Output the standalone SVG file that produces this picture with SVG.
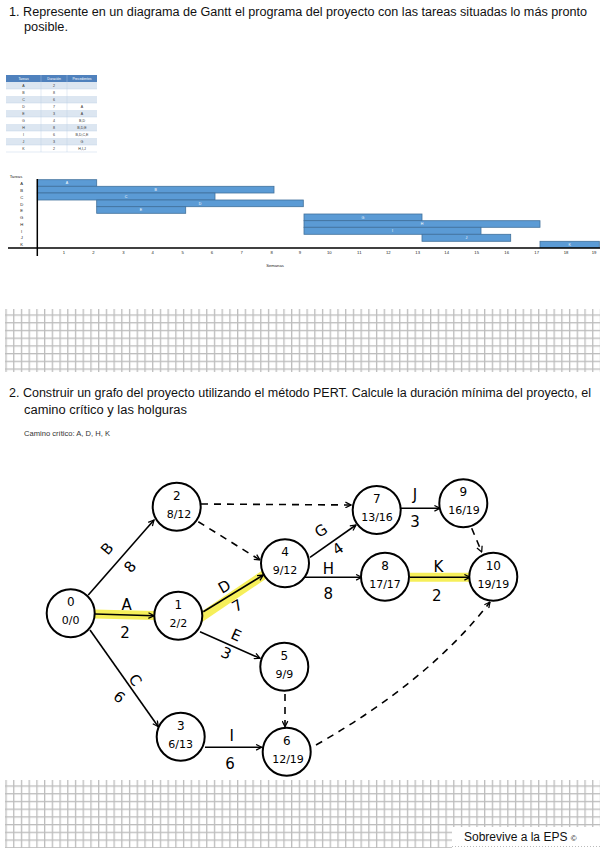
<svg xmlns="http://www.w3.org/2000/svg" width="600" height="848" viewBox="0 0 600 848">
<defs>
<style>
.h{font-family:"Liberation Sans",Arial,sans-serif;font-size:12px;fill:#111}
.tb{font-family:"Liberation Sans",Arial,sans-serif;font-size:3.6px;fill:#333;text-anchor:middle}
.th{font-family:"Liberation Sans",Arial,sans-serif;font-size:3.4px;fill:#fff;text-anchor:middle}
.gl{font-family:"Liberation Sans",Arial,sans-serif;font-size:4.2px;fill:#222;text-anchor:middle}
.bar{fill:#5b9bd5;stroke:#41719c;stroke-width:0.8}
.bl{font-family:"Liberation Sans",Arial,sans-serif;font-size:3.6px;fill:#fff;text-anchor:middle}
.node circle{fill:#fff;stroke:#000;stroke-width:2}
.nt{font-family:"DejaVu Sans",sans-serif;font-size:12px;fill:#000;text-anchor:middle}
.nb{font-family:"DejaVu Sans",sans-serif;font-size:11px;fill:#000;text-anchor:middle}
.el{font-family:"DejaVu Sans",sans-serif;font-size:15px;fill:#000;text-anchor:middle}
.e{stroke:#000;stroke-width:1.6;fill:none;marker-end:url(#ar)}
.d{stroke:#000;stroke-width:1.6;fill:none;stroke-dasharray:7 6;marker-end:url(#ar)}
.hl{stroke:#f6ef5a;stroke-width:9;fill:none;stroke-linecap:butt}
</style>
<marker id="ar" viewBox="0 0 10 10" refX="9" refY="5" markerWidth="7" markerHeight="7" orient="auto" markerUnits="userSpaceOnUse">
<path d="M1,1 L9,5 L1,9" fill="none" stroke="#000" stroke-width="1.8"/>
</marker>
<pattern id="gv" patternUnits="userSpaceOnUse" x="5.4" y="0" width="7.72" height="8"><rect x="0" y="0" width="1.3" height="8" fill="#bdbdbd"/></pattern>
<pattern id="gh1" patternUnits="userSpaceOnUse" x="0" y="314.4" width="8" height="7.72"><rect x="0" y="0" width="8" height="1.3" fill="#bdbdbd"/></pattern>
<pattern id="gh2" patternUnits="userSpaceOnUse" x="0" y="785.4" width="8" height="7.72"><rect x="0" y="0" width="8" height="1.3" fill="#bdbdbd"/></pattern>
</defs>
<rect width="600" height="848" fill="#fff"/>

<text class="h" x="9" y="16" textLength="578" lengthAdjust="spacingAndGlyphs">1. Represente en un diagrama de Gantt el programa del proyecto con las tareas situadas lo más pronto</text>
<text class="h" x="24" y="31" textLength="44" lengthAdjust="spacingAndGlyphs">posible.</text>

<g id="tabla">
<rect x="6" y="75" width="91" height="7" fill="#4f81bd"/>
<rect x="6" y="82" width="91" height="7" fill="#dce6f1"/>
<rect x="6" y="96" width="91" height="7" fill="#dce6f1"/>
<rect x="6" y="110" width="91" height="7" fill="#dce6f1"/>
<rect x="6" y="124" width="91" height="7" fill="#dce6f1"/>
<rect x="6" y="138" width="91" height="7" fill="#dce6f1"/>
<g stroke="#b8cce4" stroke-width="0.4">
<line x1="6" y1="89" x2="97" y2="89"/><line x1="6" y1="103" x2="97" y2="103"/><line x1="6" y1="117" x2="97" y2="117"/><line x1="6" y1="131" x2="97" y2="131"/><line x1="6" y1="145" x2="97" y2="145"/><line x1="6" y1="152" x2="97" y2="152"/>
<line x1="41" y1="75" x2="41" y2="152"/><line x1="67" y1="75" x2="67" y2="152"/>
</g>
<text class="th" x="23.5" y="80">Tareas</text><text class="th" x="54" y="80">Duración</text><text class="th" x="82" y="80">Precedentes</text>
<text class="tb" x="23.5" y="87">A</text><text class="tb" x="54" y="87">2</text>
<text class="tb" x="23.5" y="94">B</text><text class="tb" x="54" y="94">8</text>
<text class="tb" x="23.5" y="101">C</text><text class="tb" x="54" y="101">6</text>
<text class="tb" x="23.5" y="108">D</text><text class="tb" x="54" y="108">7</text><text class="tb" x="82" y="108">A</text>
<text class="tb" x="23.5" y="115">E</text><text class="tb" x="54" y="115">3</text><text class="tb" x="82" y="115">A</text>
<text class="tb" x="23.5" y="122">G</text><text class="tb" x="54" y="122">4</text><text class="tb" x="82" y="122">B,D</text>
<text class="tb" x="23.5" y="129">H</text><text class="tb" x="54" y="129">8</text><text class="tb" x="82" y="129">B,D,E</text>
<text class="tb" x="23.5" y="136">I</text><text class="tb" x="54" y="136">6</text><text class="tb" x="82" y="136">B,D,C,E</text>
<text class="tb" x="23.5" y="143">J</text><text class="tb" x="54" y="143">3</text><text class="tb" x="82" y="143">G</text>
<text class="tb" x="23.5" y="150">K</text><text class="tb" x="54" y="150">2</text><text class="tb" x="82" y="150">H,I,J</text>
</g>

<g id="gantt">
<text class="gl" x="16" y="177.5">Tareas</text>
<text class="gl" x="21.7" y="185">A</text><text class="gl" x="21.7" y="191.8">B</text><text class="gl" x="21.7" y="198.5">C</text><text class="gl" x="21.7" y="205.5">D</text><text class="gl" x="21.7" y="212.3">E</text><text class="gl" x="21.7" y="219">G</text><text class="gl" x="21.7" y="226">H</text><text class="gl" x="21.7" y="232.7">I</text><text class="gl" x="21.7" y="239.4">J</text><text class="gl" x="21.7" y="246">K</text>
<rect class="bar" x="37.3" y="179.7" width="59.4" height="6.6"/><text class="bl" x="67" y="184.3">A</text>
<rect class="bar" x="37.3" y="186.3" width="236.7" height="6.7"/><text class="bl" x="155.6" y="191">B</text>
<rect class="bar" x="37.3" y="193" width="177.7" height="7"/><text class="bl" x="126" y="197.8">C</text>
<rect class="bar" x="96.7" y="200" width="206.6" height="6.7"/><text class="bl" x="200" y="204.7">D</text>
<rect class="bar" x="96.7" y="206.7" width="89" height="6.6"/><text class="bl" x="141" y="211.3">E</text>
<rect class="bar" x="304" y="214" width="118" height="6.7"/><text class="bl" x="363" y="218.7">G</text>
<rect class="bar" x="304" y="220.7" width="236" height="6.6"/><text class="bl" x="422" y="225.3">H</text>
<rect class="bar" x="304" y="227.3" width="177" height="7"/><text class="bl" x="392.5" y="232.1">I</text>
<rect class="bar" x="422" y="234.3" width="88.7" height="7"/><text class="bl" x="466.3" y="239.1">J</text>
<rect class="bar" x="540" y="241.3" width="59.3" height="6.4"/><text class="bl" x="569.7" y="245.8">K</text>
<line x1="37.3" y1="179" x2="37.3" y2="256" stroke="#000" stroke-width="1.5"/>
<line x1="8" y1="248" x2="600" y2="248" stroke="#000" stroke-width="1.5"/>
<g class="gl">
<text x="64" y="254">1</text><text x="93.3" y="254">2</text><text x="123.3" y="254">3</text><text x="152.7" y="254">4</text><text x="182.7" y="254">5</text><text x="212" y="254">6</text><text x="241.7" y="254">7</text><text x="271.7" y="254">8</text><text x="300" y="254">9</text><text x="329.3" y="254">10</text><text x="359.3" y="254">11</text><text x="388.3" y="254">12</text><text x="417.7" y="254">13</text><text x="446.7" y="254">14</text><text x="476.7" y="254">15</text><text x="506.7" y="254">16</text><text x="536.7" y="254">17</text><text x="566" y="254">18</text><text x="594" y="254">19</text>
</g>
<text class="gl" x="275" y="266.5">Semanas</text>
</g>

<g id="grid-top">
<rect x="0" y="309" width="600" height="63" fill="url(#gv)"/>
<rect x="5" y="313" width="595" height="58" fill="url(#gh1)"/>
</g>

<text class="h" x="9" y="397" textLength="582" lengthAdjust="spacingAndGlyphs">2. Construir un grafo del proyecto utilizando el método PERT. Calcule la duración mínima del proyecto, el</text>
<text class="h" x="24" y="414" textLength="163" lengthAdjust="spacingAndGlyphs">camino crítico y las holguras</text>
<text x="24" y="436" font-family="Liberation Sans, Arial, sans-serif" font-size="7" fill="#333" textLength="86" lengthAdjust="spacingAndGlyphs">Camino crítico: A, D, H, K</text>

<g id="conectores">
<path class="hl" d="M94,614 L155,615.5"/>
<path class="hl" d="M200,618 L265,574"/>
<path class="hl" d="M410,577.3 L472,577.3"/>
<path class="e" d="M88.3,595 L154,520"/>
<path class="e" d="M95,614 L154,615.7"/>
<path class="e" d="M90,630 L158.3,726.7"/>
<path class="e" d="M203.3,611.7 L263.3,575"/>
<path class="e" d="M200,631.7 L260,658.3"/>
<path class="d" d="M198.3,521.7 L260,560"/>
<path class="d" d="M201,504 L351,505"/>
<path class="e" d="M205,747.3 L261.7,747.3"/>
<path class="d" d="M285,694 L285,726.7"/>
<path class="d" d="M316,745 Q 430,680 490,602"/>
<path class="e" d="M310,557.3 L356,525"/>
<path class="e" d="M305,577.3 L361.7,577.3"/>
<path class="e" d="M400,508.3 L440,508.3"/>
<path class="e" d="M410,577.3 L470,577.3"/>
<path class="d" d="M471.7,528.3 L481.7,552"/>
<text class="el" transform="translate(111,552) rotate(-50)">B</text>
<text class="el" transform="translate(134,570) rotate(-50)">8</text>
<text class="el" x="126.7" y="610">A</text>
<text class="el" x="125" y="638">2</text>
<text class="el" transform="translate(227,591) rotate(-30)">D</text>
<text class="el" transform="translate(240,610) rotate(-30)">7</text>
<text class="el" transform="translate(234,640) rotate(24)">E</text>
<text class="el" transform="translate(224,658) rotate(24)">3</text>
<text class="el" transform="translate(131,683) rotate(55)">C</text>
<text class="el" transform="translate(116,701) rotate(40)">6</text>
<text class="el" x="231.7" y="741">I</text>
<text class="el" x="230" y="769">6</text>
<text class="el" transform="translate(324,535) rotate(-35)">G</text>
<text class="el" transform="translate(341,553) rotate(-35)">4</text>
<text class="el" x="328.3" y="573.5">H</text>
<text class="el" x="328.3" y="599">8</text>
<text class="el" x="415" y="500">J</text>
<text class="el" x="415" y="527">3</text>
<text class="el" x="438.3" y="572">K</text>
<text class="el" x="436.7" y="601">2</text>
</g>

<g id="n0" class="node"><circle cx="70.7" cy="613.3" r="24"/><text class="nt" x="70.7" y="606.3">0</text><text class="nb" x="70.7" y="624.3">0/0</text></g>
<g id="n1" class="node"><circle cx="178.3" cy="615.7" r="24"/><text class="nt" x="178.3" y="608.7">1</text><text class="nb" x="178.3" y="626.7">2/2</text></g>
<g id="n2" class="node"><circle cx="176.7" cy="506.7" r="24"/><text class="nt" x="176.7" y="499.7">2</text><text class="nb" x="179" y="517.7">8/12</text></g>
<g id="n3" class="node"><circle cx="180.7" cy="736.7" r="24"/><text class="nt" x="180.7" y="729.7">3</text><text class="nb" x="180.7" y="747.7">6/13</text></g>
<g id="n4" class="node"><circle cx="285" cy="563.3" r="24"/><text class="nt" x="285" y="556.3">4</text><text class="nb" x="285" y="574.3">9/12</text></g>
<g id="n5" class="node"><circle cx="284.3" cy="666.7" r="24"/><text class="nt" x="284.3" y="659.7">5</text><text class="nb" x="284.3" y="677.7">9/9</text></g>
<g id="n6" class="node"><circle cx="286.7" cy="751.7" r="24"/><text class="nt" x="286.7" y="744.7" font-size="10">6</text><text class="nb" x="288" y="762.7" font-size="10">12/19</text></g>
<g id="n7" class="node"><circle cx="376.7" cy="510" r="24"/><text class="nt" x="376.7" y="503" font-size="10">7</text><text class="nb" x="377" y="521" font-size="10">13/16</text></g>
<g id="n8" class="node"><circle cx="385" cy="576.7" r="24"/><text class="nt" x="385" y="569.7">8</text><text class="nb" x="385" y="587.7" font-size="10">17/17</text></g>
<g id="n9" class="node"><circle cx="463.3" cy="503.3" r="24"/><text class="nt" x="463.3" y="496.3" font-size="10">9</text><text class="nb" x="464" y="514.3" font-size="10">16/19</text></g>
<g id="n10" class="node"><circle cx="493.3" cy="576.7" r="24"/><text class="nt" x="493.3" y="569.7" font-size="11">10</text><text class="nb" x="493.3" y="587.7" font-size="10">19/19</text></g>

<g id="grid-bottom">
<rect x="0" y="780" width="600" height="68" fill="url(#gv)"/>
<rect x="5" y="784" width="595" height="64" fill="url(#gh2)"/>
<rect x="452" y="827" width="148" height="21" fill="#fff"/>
<line x1="452" y1="846.5" x2="600" y2="846.5" stroke="#bbb" stroke-width="1" stroke-dasharray="1 2"/>
<text x="464" y="841" font-family="Liberation Sans, Arial, sans-serif" font-size="12" fill="#111">Sobrevive a la EPS <tspan font-size="8">©</tspan></text>
</g>
</svg>
